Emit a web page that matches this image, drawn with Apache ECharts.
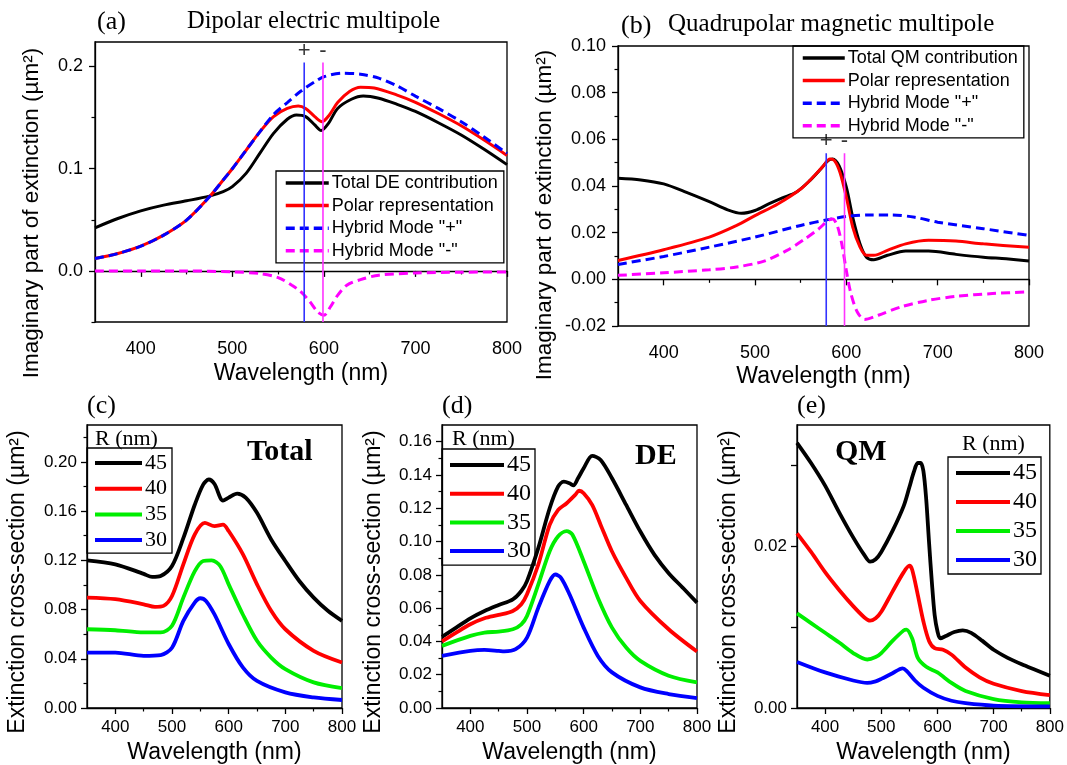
<!DOCTYPE html>
<html>
<head>
<meta charset="utf-8">
<script src="https://cdn.jsdelivr.net/npm/echarts@6/dist/echarts.min.js"></script>
<style>
html,body{margin:0;padding:0;background:#fff;}
#chart{width:1067px;height:765px;}
</style>
</head>
<body>
<div id="chart"></div>
<script>
// ---------- Panel (a): Dipolar electric multipole ----------
const aTotalX = [350,375,400,425,450,475,490,500,515,530,545,560,570,580,590,597,605,615,630,643,660,680,700,725,750,775,800];
const aTotalY = [0.0422,0.0513,0.0588,0.0644,0.0686,0.0732,0.0775,0.0824,0.0954,0.115,0.1346,0.1484,0.1526,0.151,0.1428,0.1373,0.1444,0.159,0.168,0.1712,0.169,0.163,0.156,0.145,0.133,0.119,0.104];
const aPolarX = [350,375,400,425,450,475,490,500,515,530,545,560,572,580,590,598,606,615,628,640,655,680,700,725,750,775,800];
const aPolarY = [0.0121,0.017,0.0242,0.035,0.0497,0.0725,0.0889,0.100,0.118,0.136,0.151,0.159,0.1614,0.159,0.151,0.146,0.1526,0.1647,0.1755,0.1797,0.179,0.172,0.165,0.154,0.142,0.128,0.113];
const aHybPX = [350,375,400,425,450,475,490,500,515,530,545,560,575,590,600,620,640,660,680,700,725,750,775,800];
const aHybPY = [0.0121,0.017,0.0242,0.035,0.0497,0.0725,0.0889,0.100,0.118,0.136,0.153,0.1647,0.176,0.185,0.190,0.1935,0.1925,0.1886,0.181,0.171,0.159,0.146,0.131,0.115];
const aHybMX = [350,400,450,500,530,550,565,575,585,593,600,607,615,625,640,660,700,750,800];
const aHybMY = [0,0,0,-0.001,-0.0026,-0.0065,-0.014,-0.0206,-0.0304,-0.040,-0.0435,-0.0353,-0.0239,-0.014,-0.0085,-0.0042,-0.002,-0.0013,-0.001];
const aMarkX = [578.5, 599];      // "+" and "-" mode positions
const aMarkRange = [-0.05, 0.204];

// ---------- Panel (b): Quadrupolar magnetic multipole ----------
const bTotalX = [350,375,400,425,450,470,485,500,515,530,545,560,572,580,585,592,600,607,615,622,630,645,665,690,720,750,775,800];
const bTotalY = [0.0433,0.0426,0.0409,0.0373,0.0333,0.0298,0.0283,0.0295,0.0323,0.0349,0.0373,0.0423,0.0473,0.0509,0.0516,0.0487,0.0395,0.0266,0.0152,0.0095,0.0084,0.0103,0.0121,0.0121,0.0107,0.0095,0.0088,0.0079];
const bPolarX = [350,400,450,480,500,525,550,565,575,582,587,593,600,607,615,622,630,645,665,690,720,750,800];
const bPolarY = [0.0081,0.0127,0.0181,0.0231,0.0273,0.0323,0.0387,0.0444,0.0487,0.0516,0.0509,0.0459,0.0352,0.0224,0.0138,0.0103,0.0103,0.0124,0.0152,0.0167,0.0164,0.0152,0.0137];
const bHybPX = [350,400,450,500,550,580,600,625,650,675,700,750,800];
const bHybPY = [0.0064,0.0098,0.0138,0.0181,0.0231,0.0256,0.0269,0.0276,0.0276,0.0266,0.0245,0.0217,0.0188];
const bHybMX = [350,400,450,480,510,535,555,570,580,585,590,595,600,605,612,620,635,660,690,720,760,800];
const bHybMY = [0.0017,0.0028,0.0041,0.0053,0.0078,0.0124,0.0174,0.0217,0.0252,0.0259,0.0231,0.0152,0.0038,-0.0061,-0.014,-0.0172,-0.0154,-0.0118,-0.009,-0.0073,-0.0061,-0.0054];
const bMarkX = [578, 598];
const bMarkRange = [-0.02, 0.054];

// ---------- Panel (c): Total ----------
const cR45X = [350,400,450,465,480,500,520,540,555,565,575,590,600,615,630,650,675,700,725,750,775,800];
const cR45Y = [0.120,0.1168,0.109,0.1065,0.1073,0.1154,0.138,0.165,0.1816,0.1857,0.182,0.1686,0.171,0.1743,0.171,0.1586,0.137,0.1195,0.103,0.0897,0.079,0.0708];
const cR40X = [350,400,450,470,485,500,520,540,558,575,590,600,625,650,675,700,750,800];
const cR40Y = [0.0897,0.0884,0.0843,0.0822,0.083,0.091,0.1168,0.141,0.1505,0.1478,0.149,0.1438,0.125,0.1005,0.079,0.064,0.0465,0.037];
const cR35X = [350,400,450,480,500,520,540,555,570,585,600,625,650,675,700,750,800];
const cR35Y = [0.064,0.0632,0.0614,0.0614,0.0668,0.0897,0.111,0.1195,0.120,0.1154,0.1005,0.076,0.0546,0.041,0.0316,0.0208,0.0162];
const cR30X = [350,400,450,480,500,520,540,550,560,575,600,625,650,700,750,800];
const cR30Y = [0.045,0.045,0.0424,0.043,0.049,0.0708,0.0857,0.0892,0.087,0.076,0.052,0.033,0.022,0.0127,0.0086,0.0065];

// ---------- Panel (d): DE ----------
const dR45X = [350,375,400,425,450,475,490,500,520,540,555,565,575,582,590,600,615,630,650,675,700,725,750,775,800];
const dR45Y = [0.0427,0.0483,0.0539,0.0583,0.0619,0.0653,0.0703,0.0762,0.0962,0.120,0.1331,0.136,0.135,0.1337,0.138,0.144,0.1515,0.149,0.138,0.122,0.106,0.092,0.081,0.0722,0.0633];
const dR40X = [350,375,400,425,450,475,490,500,520,540,555,570,585,592,600,615,630,650,675,700,750,800];
const dR40Y = [0.040,0.0453,0.0503,0.0539,0.0559,0.0583,0.0623,0.0683,0.0862,0.110,0.119,0.123,0.128,0.1305,0.129,0.122,0.110,0.094,0.0782,0.0643,0.0473,0.0339];
const dR35X = [350,400,425,450,475,490,500,520,540,555,570,580,600,625,650,675,700,750,800];
const dR35Y = [0.0373,0.0433,0.0453,0.0459,0.0473,0.0503,0.0553,0.0743,0.0942,0.1032,0.1062,0.1042,0.0882,0.0663,0.0483,0.0363,0.0283,0.0194,0.0154];
const dR30X = [350,400,425,450,460,480,500,520,540,550,560,575,600,625,650,700,750,800];
const dR30Y = [0.0313,0.0343,0.0349,0.0343,0.034,0.0353,0.0423,0.0603,0.0762,0.0802,0.0782,0.0683,0.0483,0.0313,0.0214,0.0124,0.0084,0.006];

// ---------- Panel (e): QM ----------
const eR45X = [350,375,400,425,450,470,480,490,500,520,540,550,558,565,570,575,580,585,590,595,600,605,615,630,645,660,680,700,725,750,775,800];
const eR45Y = [0.0328,0.0303,0.0275,0.0242,0.0211,0.0189,0.0181,0.0184,0.0193,0.0219,0.0250,0.0273,0.0292,0.0303,0.0303,0.0293,0.0258,0.0205,0.0156,0.0115,0.0095,0.0086,0.0089,0.0094,0.0096,0.0093,0.0083,0.0072,0.0062,0.0054,0.0047,0.004];
const eR40X = [350,375,400,425,450,470,480,490,500,520,540,550,555,565,575,585,595,610,625,650,675,700,750,800];
const eR40Y = [0.0216,0.0193,0.0168,0.0146,0.0126,0.0112,0.0108,0.0111,0.0119,0.0144,0.0168,0.0176,0.0171,0.014,0.0107,0.0083,0.0074,0.0072,0.0066,0.005,0.0038,0.003,0.0021,0.0016];
const eR35X = [350,375,400,425,450,475,490,500,520,540,545,555,565,580,600,625,650,700,750,800];
const eR35Y = [0.0117,0.0105,0.0093,0.0081,0.0068,0.006,0.0063,0.0068,0.0083,0.0096,0.0097,0.0086,0.0062,0.0051,0.0044,0.0031,0.0021,0.0011,0.0007,0.0006];
const eR30X = [350,400,450,475,490,500,520,538,545,560,575,600,625,650,700,800];
const eR30Y = [0.0057,0.0044,0.0034,0.0031,0.0033,0.0036,0.0043,0.0049,0.0046,0.0034,0.0025,0.0015,0.0009,0.0006,0.0003,0.0002];

// ---------- Tick labels ----------
const xLabels = [400,500,600,700,800];
const xMinor = [450,550,650,750];
const aYLabels = [0,0.1,0.2];
const aYMinor = [-0.05,0.05,0.15];
const bYLabels = [-0.02,0,0.02,0.04,0.06,0.08,0.10];
const bYMinor = [-0.01,0.01,0.03,0.05,0.07,0.09];
const cYLabels = [0,0.04,0.08,0.12,0.16,0.20];
const cYMinor = [0.02,0.06,0.10,0.14,0.18,0.22];
const dYLabels = [0,0.02,0.04,0.06,0.08,0.10,0.12,0.14,0.16];
const dYMinor = [0.01,0.03,0.05,0.07,0.09,0.11,0.13,0.15];
const eYLabels = [0,0.02];
const eYTicks = [0,0.01,0.02,0.03];

const topNames = {
  a: ['Total DE contribution','Polar representation','Hybrid Mode "+"','Hybrid Mode "-"'],
  b: ['Total QM contribution','Polar representation','Hybrid Mode "+"','Hybrid Mode "-"']
};
const rNames = ['45','40','35','30'];
const yNameTop = 'Imaginary part of extinction (µm²)';
const yNameBottom = 'Extinction cross-section (µm²)';

// ---------- build ----------
const SANS = 'Liberation Sans, Arial, sans-serif';
const SERIF = 'Liberation Serif, Times New Roman, serif';
const zip = (xs, ys) => xs.map((x, i) => [x, ys[i]]);

const grids = [
  {left: 95, top: 42, width: 412, height: 280},
  {left: 618, top: 46, width: 411, height: 280},
  {left: 87, top: 425, width: 255, height: 284},
  {left: 442, top: 425, width: 255, height: 284},
  {left: 797, top: 425, width: 255, height: 284}
].map(g => Object.assign(g, {show: true, borderColor: '#000', borderWidth: 1.3, backgroundColor: 'transparent'}));

const panelY = [
  {min: -0.05, max: 0.224, labels: aYLabels, major: aYLabels, minor: aYMinor, dec: 1, margin: 12, fs: 18},
  {min: -0.02, max: 0.10, labels: bYLabels, major: bYLabels, minor: bYMinor, dec: 2, margin: 12, fs: 18},
  {min: 0, max: 0.23, labels: cYLabels, major: cYLabels, minor: cYMinor, dec: 2, margin: 10, fs: 17},
  {min: 0, max: 0.17, labels: dYLabels, major: dYLabels, minor: dYMinor, dec: 2, margin: 10, fs: 17},
  {min: 0, max: 0.035, labels: eYLabels, major: eYTicks, minor: [], dec: 2, margin: 10, fs: 17}
];
const panelX = [
  {margin: 18, gap: 40, fs: 18},
  {margin: 18, gap: 39, fs: 18},
  {margin: 11, gap: 33, fs: 17},
  {margin: 11, gap: 33, fs: 17},
  {margin: 11, gap: 33, fs: 17}
];

const axLine = {show: true, lineStyle: {color: '#000', width: 1.3}};
const xAxes = [], yAxes = [];
panelX.forEach((p, i) => {
  xAxes.push({
    type: 'value', gridIndex: i, min: 350, max: 800, position: 'bottom',
    axisLine: axLine,
    axisTick: {show: true, inside: false, length: 6, customValues: xLabels, lineStyle: {color: '#000', width: 1.3}},
    axisLabel: {show: true, customValues: xLabels, margin: p.margin, color: '#000', fontFamily: SANS, fontSize: p.fs},
    splitLine: {show: false},
    name: 'Wavelength (nm)', nameLocation: 'middle', nameGap: p.gap,
    nameTextStyle: {color: '#000', fontFamily: SANS, fontSize: 23}
  });
  xAxes.push({
    type: 'value', gridIndex: i, min: 350, max: 800, position: 'bottom',
    axisLine: {show: false},
    axisTick: {show: true, inside: false, length: 3.5, customValues: xMinor, lineStyle: {color: '#000', width: 1.2}},
    axisLabel: {show: false}, splitLine: {show: false}
  });
});
panelY.forEach((p, i) => {
  yAxes.push({
    type: 'value', gridIndex: i, min: p.min, max: p.max, position: 'left',
    axisLine: axLine,
    axisTick: {show: true, inside: false, length: 6, customValues: p.major, lineStyle: {color: '#000', width: 1.3}},
    axisLabel: {show: true, customValues: p.labels, margin: p.margin, color: '#000', fontFamily: SANS, fontSize: p.fs,
      formatter: v => Number(v).toFixed(p.dec)},
    splitLine: {show: false}
  });
  yAxes.push({
    type: 'value', gridIndex: i, min: p.min, max: p.max, position: 'left',
    axisLine: {show: false},
    axisTick: {show: p.minor.length > 0, inside: false, length: 3.5, customValues: p.minor.length ? p.minor : [p.min], lineStyle: {color: '#000', width: 1.2}},
    axisLabel: {show: false}, splitLine: {show: false}
  });
});

function curve(panel, name, xs, ys, color, width, dashed) {
  return {
    type: 'line', name: name, xAxisIndex: panel * 2, yAxisIndex: panel * 2,
    data: zip(xs, ys), smooth: 0.3, symbol: 'none', showSymbol: false,
    lineStyle: {color: color, width: width, type: dashed ? [9, 5] : 'solid'},
    itemStyle: {color: color}, silent: true, animation: false, z: 3
  };
}
function vline(panel, x, range, color, sign) {
  return [{
    type: 'line', name: 'mode' + sign + panel, xAxisIndex: panel * 2, yAxisIndex: panel * 2,
    data: [[x, range[0]], [x, range[1]]], symbol: 'none',
    lineStyle: {color: color, width: 1.6}, itemStyle: {color: color}, animation: false, z: 4
  }, {
    type: 'scatter', name: 'lab' + sign + panel, xAxisIndex: panel * 2, yAxisIndex: panel * 2,
    data: [[x, range[1]]], symbolSize: 0, animation: false,
    label: {show: true, position: 'top', distance: 1, formatter: sign, color: '#000', fontFamily: SANS, fontSize: 22}
  }];
}

const BLK = '#000000', RED = '#ff0000', BLU = '#0000ff', MAG = '#ff00ff', GRN = '#00ee00';
const series = [
  curve(0, topNames.a[0], aTotalX, aTotalY, BLK, 3),
  curve(0, topNames.a[1], aPolarX, aPolarY, RED, 3),
  curve(0, topNames.a[2], aHybPX, aHybPY, BLU, 3, true),
  curve(0, topNames.a[3], aHybMX, aHybMY, MAG, 3, true),
  ...vline(0, aMarkX[0], aMarkRange, '#3333ff', '+'),
  ...vline(0, aMarkX[1], aMarkRange, '#ff33ff', '-'),
  curve(1, topNames.b[0], bTotalX, bTotalY, BLK, 3),
  curve(1, topNames.b[1], bPolarX, bPolarY, RED, 3),
  curve(1, topNames.b[2], bHybPX, bHybPY, BLU, 3, true),
  curve(1, topNames.b[3], bHybMX, bHybMY, MAG, 3, true),
  ...vline(1, bMarkX[0], bMarkRange, '#3333ff', '+'),
  ...vline(1, bMarkX[1], bMarkRange, '#ff33ff', '-'),
  curve(2, '45', cR45X, cR45Y, BLK, 3.8),
  curve(2, '40', cR40X, cR40Y, RED, 3.8),
  curve(2, '35', cR35X, cR35Y, GRN, 3.8),
  curve(2, '30', cR30X, cR30Y, BLU, 3.8),
  curve(3, '45', dR45X, dR45Y, BLK, 3.8),
  curve(3, '40', dR40X, dR40Y, RED, 3.8),
  curve(3, '35', dR35X, dR35Y, GRN, 3.8),
  curve(3, '30', dR30X, dR30Y, BLU, 3.8),
  curve(4, '45', eR45X, eR45Y, BLK, 3.8),
  curve(4, '40', eR40X, eR40Y, RED, 3.8),
  curve(4, '35', eR35X, eR35Y, GRN, 3.8),
  curve(4, '30', eR30X, eR30Y, BLU, 3.8)
];

function legend(names, left, top, iw, gap, pad, font, size, lw) {
  return {
    data: names, orient: 'vertical', left: left, top: top, itemWidth: iw, itemHeight: 14,
    itemGap: gap, padding: pad, borderColor: '#000', borderWidth: 1.3, borderRadius: 0,
    backgroundColor: 'transparent', selectedMode: false, align: 'left',
    itemStyle: {opacity: 0, color: 'transparent', borderWidth: 0},
    lineStyle: {width: lw},
    textStyle: {color: '#000', fontFamily: font, fontSize: size, padding: [0, 0, 0, -2]}
  };
}
const legends = [
  legend(topNames.a, 276, 171, 43, 4.6, [3, 6, 3, 8], SANS, 18, 3.5),
  legend(topNames.b, 793, 46, 42, 4.6, [3, 6, 3, 8], SANS, 18, 3.5),
  legend(rNames, 87, 448, 47, 3.7, [4, 5, 2, 6], SERIF, 22, 4),
  legend(rNames, 442, 449, 54, 4.7, [4, 4, 2, 6], SERIF, 24, 4),
  legend(rNames, 948, 457, 54, 5, [4, 4, 2, 6], SERIF, 24, 4)
];

function txt(text, left, top, size, bold) {
  return {text: text, left: left, top: top, padding: 0,
    textStyle: {color: '#000', fontFamily: SERIF, fontSize: size, fontWeight: bold ? 'bold' : 'normal'}};
}
const titles = [
  txt('(a)', 97, 9, 26),
  txt('Dipolar electric multipole', 187, 9, 24.5),
  txt('(b)', 621, 13, 26),
  txt('Quadrupolar magnetic multipole', 668, 12, 25),
  txt('(c)', 87, 393, 26),
  txt('(d)', 442, 393, 26),
  txt('(e)', 797, 393, 26),
  txt('Total', 247, 437, 30, true),
  txt('DE', 635, 441, 30, true),
  txt('QM', 835, 437, 30, true),
  txt('R (nm)', 95, 428, 22),
  txt('R (nm)', 452, 428, 22),
  txt('R (nm)', 962, 433, 22)
];

// rotated y-axis titles (real text, placed like the reference)
function yName(text, cx, cy, size) {
  return {type: 'text', x: cx, y: cy, rotation: Math.PI / 2, silent: true,
    style: {text: text, fill: '#000', fontFamily: SANS, fontSize: size, align: 'center', verticalAlign: 'middle'}};
}
const graphics = [
  yName(yNameTop, 32, 213, 22.5),
  yName(yNameTop, 545, 215, 22.5),
  yName(yNameBottom, 18, 582, 23),
  yName(yNameBottom, 374, 582, 23),
  yName(yNameBottom, 729, 582, 23)
];

const chart = echarts.init(document.getElementById('chart'), null, {renderer: 'canvas'});
chart.setOption({
  backgroundColor: '#fff',
  animation: false,
  title: titles,
  legend: legends,
  grid: grids,
  xAxis: xAxes,
  yAxis: yAxes,
  graphic: graphics,
  series: series
});
</script>
</body>
</html>
